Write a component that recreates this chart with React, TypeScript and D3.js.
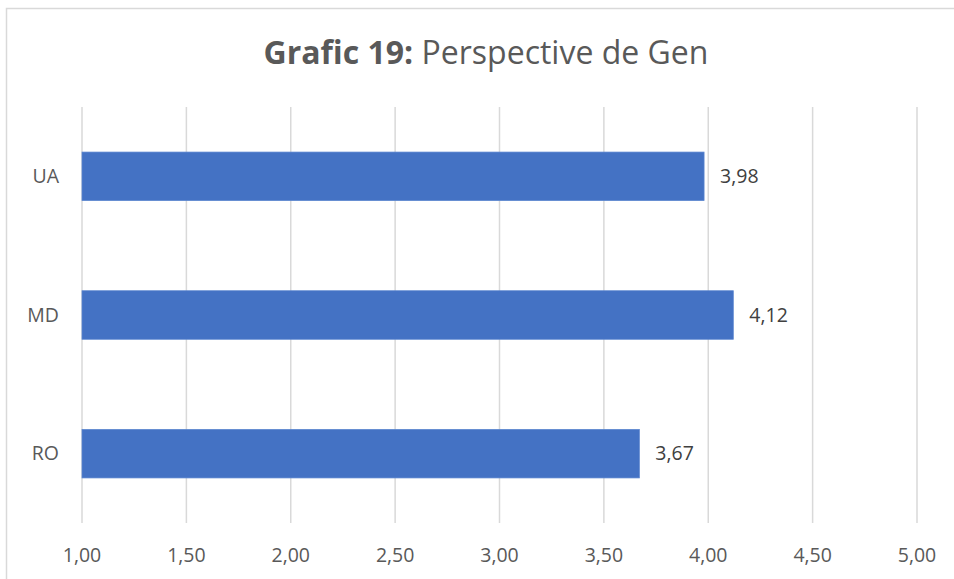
import React from "react";
import * as d3 from "d3";

const categories = ["UA", "MD", "RO"];
const values = [3.98, 4.12, 3.67];
const ticks = [1.0, 1.5, 2.0, 2.5, 3.0, 3.5, 4.0, 4.5, 5.0];
const titleBold = "Grafic 19:";
const titleRest = " Perspective de Gen";

const W = 954;
const H = 579;

export default function App() {
  const x = d3.scaleLinear().domain([1, 5]).range([82, 917]);
  const y = d3.scaleBand().domain(categories).range([107, 523]).paddingInner(0.65).paddingOuter(0.325);
  const fmt = (v: number) => v.toFixed(2).replace(".", ",");
  const font = "'Open Sans', 'Noto Sans', sans-serif";
  return (
    <svg width={W} height={H} style={{ position: "absolute", left: 0, top: 0, background: "#fff" }} fontFamily={font}>
      <rect x={0} y={0} width={W} height={H} fill="#fff" />
      <rect x={6.5} y={8.5} width={960} height={600} fill="none" stroke="#D9D9D9" strokeWidth={1.5} />
      <text x={486} y={64} textAnchor="middle" fontSize={32} fill="#595959">
        <tspan fontWeight="bold">{titleBold}</tspan>
        <tspan>{titleRest}</tspan>
      </text>
      {ticks.map((t) => (
        <g key={t}>
          <line x1={x(t)} x2={x(t)} y1={107} y2={523} stroke="#D9D9D9" strokeWidth={1.5} />
          <text x={x(t)} y={562} textAnchor="middle" fontSize={19.5} fill="#595959">
            {fmt(t)}
          </text>
        </g>
      ))}
      {categories.map((c, i) => {
        const yy = y(c)!;
        const bh = y.bandwidth();
        return (
          <g key={c}>
            <rect x={x(1)} y={yy} width={x(values[i]) - x(1)} height={bh} fill="#4472C4" stroke="#5B86D0" strokeWidth={0.75} />
            <text x={59} y={yy + bh / 2} dy="0.35em" textAnchor="end" fontSize={19.5} fill="#595959">
              {c}
            </text>
            <text x={x(values[i]) + 16} y={yy + bh / 2} dy="0.35em" textAnchor="start" fontSize={19.5} fill="#404040">
              {fmt(values[i])}
            </text>
          </g>
        );
      })}
    </svg>
  );
}
